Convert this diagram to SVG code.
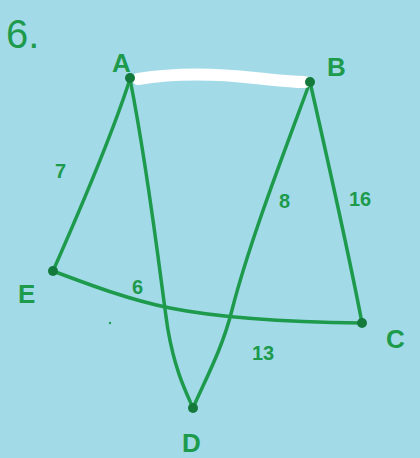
<svg xmlns="http://www.w3.org/2000/svg" width="420" height="458" viewBox="0 0 420 458">
<style>
.e{fill:none;stroke:#1e9a4c;stroke-width:3.5;stroke-linecap:round;stroke-linejoin:round}
.n{fill:#137a3c}
.t{font-family:"Liberation Sans",sans-serif;fill:#1e9a4c;font-weight:bold}
.l{font-size:26px}
.w{font-size:20px}
</style>
<rect width="420" height="458" fill="#a2dae8"/>
<text class="t" x="6" y="48" font-size="40" style="font-weight:normal">6.</text>
<g id="edges">
<path class="e" d="M130,79 C112,135 80,210 53,271"/>
<path class="e" d="M130,79 C150,180 163,300 168,330 C175,370 185,390 193,408"/>
<path class="e" d="M310,82 C285,150 250,240 232,310 C222,350 205,380 193,408"/>
<path class="e" d="M310,82 C330,170 350,260 362,323"/>
<path class="e" d="M53,271 C90,285 130,300 170,308 C220,318 280,322 362,323"/>
<path d="M138,79 C180,72 220,74 255,78 C275,80 290,82 305,82" fill="none" stroke="#ffffff" stroke-width="12" stroke-linecap="round"/>
</g>
<g id="A"><circle class="n" cx="130" cy="78" r="5"/><text class="t l" x="112" y="72">A</text></g>
<g id="B"><circle class="n" cx="310" cy="82" r="5"/><text class="t l" x="327" y="76">B</text></g>
<g id="E"><circle class="n" cx="53" cy="271" r="5"/><text class="t l" x="18" y="303">E</text></g>
<g id="C"><circle class="n" cx="362" cy="323" r="5"/><text class="t l" x="386" y="348">C</text></g>
<g id="D"><circle class="n" cx="193" cy="408" r="5"/><text class="t l" x="182" y="452">D</text></g>
<g id="labels">
<text class="t w" x="55" y="178">7</text>
<text class="t w" x="132" y="294">6</text>
<text class="t w" x="279" y="208">8</text>
<text class="t w" x="349" y="206">16</text>
<text class="t w" x="252" y="360">13</text>
</g>
<circle cx="110" cy="323" r="1.2" fill="#1e9a4c"/>
</svg>
